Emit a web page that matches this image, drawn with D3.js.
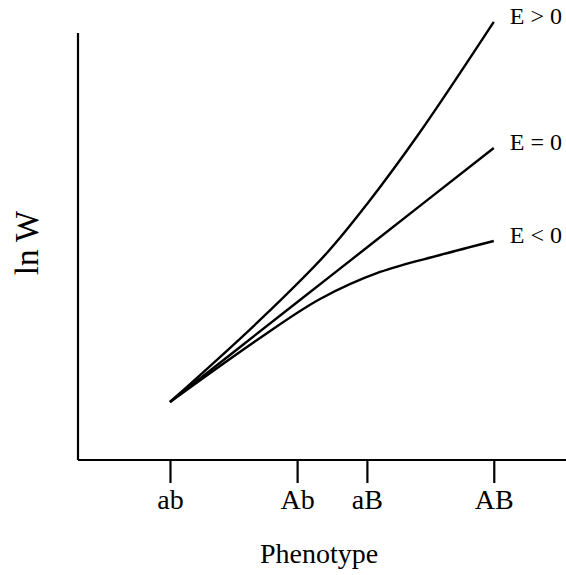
<!DOCTYPE html>
<html><head><meta charset="utf-8">
<script src="https://cdn.jsdelivr.net/npm/d3@7"></script>
<style>body{margin:0;background:#fff}svg{display:block}text{font-family:"Liberation Serif","Times New Roman",serif;fill:#000}</style>
</head><body>
<script>
// Phenotype categories and their positions on the phenotype axis
const phenotypes = ["ab", "Ab", "aB", "AB"];
const phenoPos = [1.885, 4.49, 5.92, 8.52];

// ln W curves (x = phenotype value, y = ln W)
const seriesNames = ["E > 0", "E = 0", "E < 0"];
const posX = [1.885, 3.73, 5.10, 5.94, 7.01, 8.52];
const posY = [1.358, 3.279, 4.848, 6.019, 7.681, 10.26];
const zeroX = [1.885, 4.49, 5.92, 8.52];
const zeroY = [1.358, 3.694, 4.976, 7.307];
const negX = [1.885, 3.73, 4.96, 6.19, 7.42, 8.52];
const negY = [1.358, 2.857, 3.770, 4.403, 4.801, 5.129];

const W = 566, H = 575;
const svg = d3.select("body").append("svg").attr("width", W).attr("height", H);
const x = d3.scaleLinear().domain([0, 10]).range([78, 566]);
const y = d3.scaleLinear().domain([0, 10]).range([460, 33]);

// axes
svg.append("line").attr("x1", x(0)).attr("x2", x(0)).attr("y1", y(10)).attr("y2", y(0))
  .attr("stroke", "#000").attr("stroke-width", 2.2);
const xAxis = d3.axisBottom(x).tickValues(phenoPos).tickSize(23).tickPadding(6)
  .tickFormat((d, i) => phenotypes[i]);
const gx = svg.append("g").attr("transform", `translate(0,${y(0)})`).call(xAxis);
gx.select(".domain").attr("d", `M${x(0)},0H${x(10)}`).attr("stroke-width", 2.2);
gx.selectAll(".tick line").attr("stroke-width", 2.2);
gx.selectAll(".tick text").attr("font-size", 28).attr("font-family", "Liberation Serif");

svg.append("text").attr("x", 319).attr("y", 563).attr("text-anchor", "middle")
  .attr("font-size", 28).text("Phenotype");
svg.append("text").attr("transform", "translate(38,243) rotate(-90)").attr("text-anchor", "middle")
  .attr("font-size", 33).text("ln W");

const line = d3.line().x(d => x(d[0])).y(d => y(d[1])).curve(d3.curveCatmullRom.alpha(0.5));
const sets = [d3.zip(posX, posY), d3.zip(zeroX, zeroY), d3.zip(negX, negY)];
sets.forEach((pts, i) => {
  svg.append("path").attr("d", line(pts)).attr("fill", "none").attr("stroke", "#000")
    .attr("stroke-width", 2.4);
  const last = pts[pts.length - 1];
  svg.append("text").attr("x", x(last[0]) + 16).attr("y", y(last[1]) + 2)
    .attr("font-size", 24).text(seriesNames[i]);
});
</script>
</body></html>
